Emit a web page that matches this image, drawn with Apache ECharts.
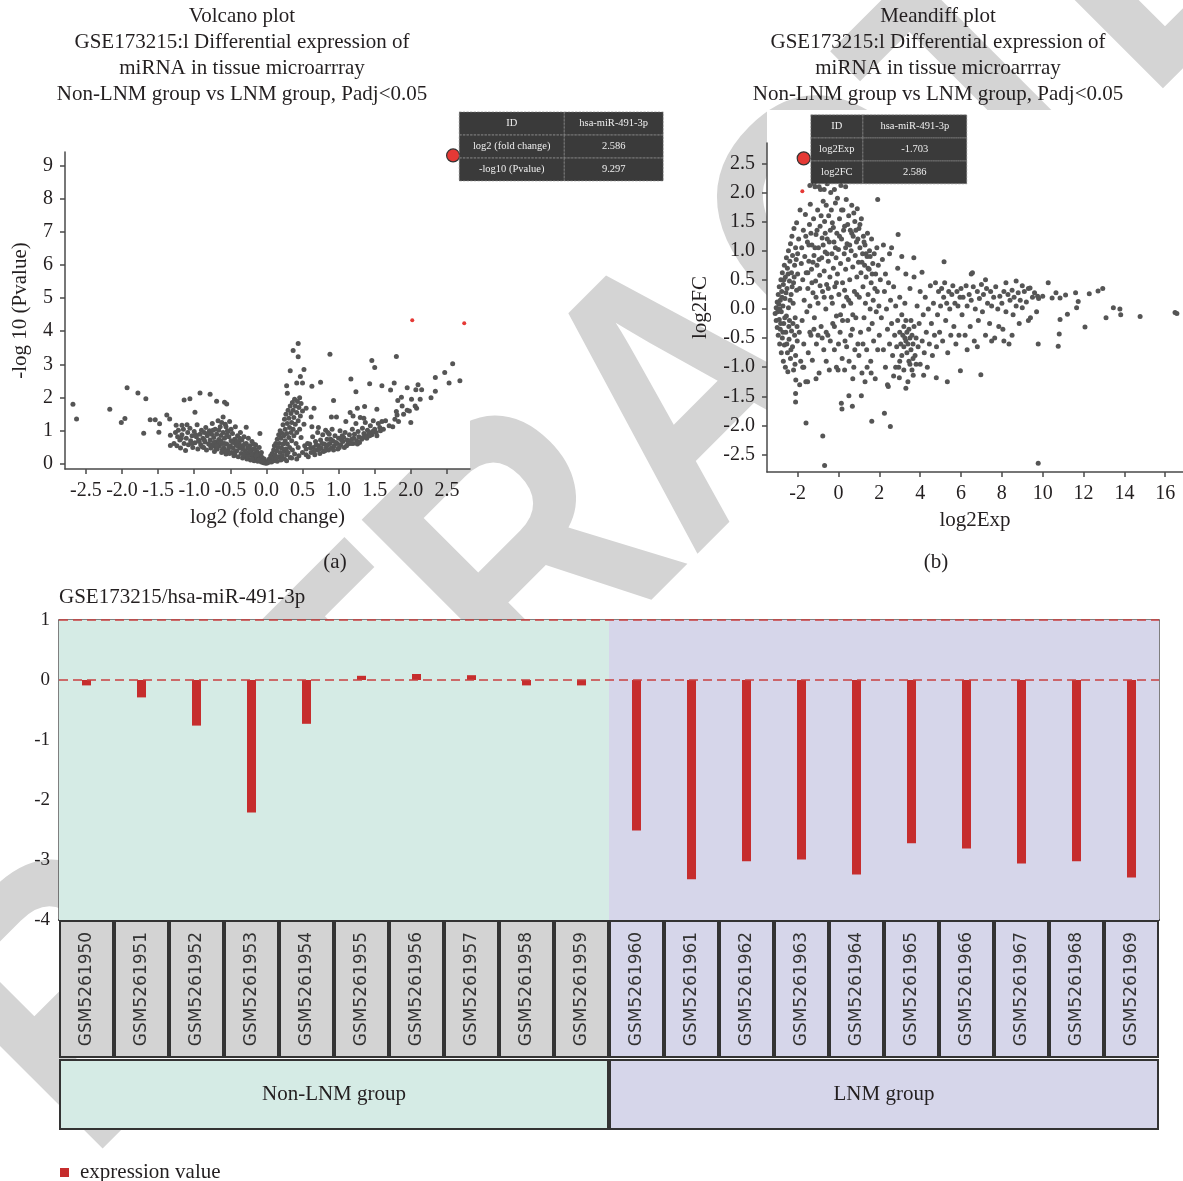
<!DOCTYPE html>
<html>
<head>
<meta charset="utf-8">
<title>GSE173215 hsa-miR-491-3p</title>
<script src="https://cdn.jsdelivr.net/npm/echarts@6/dist/echarts.min.js"></script>
<style>
  html, body { margin: 0; padding: 0; background: #ffffff; }
  #main { width: 1183px; height: 1181px; }
</style>
</head>
<body>
<div id="main"></div>
<script>
// ---- data ----
const hitId = 'hsa-miR-491-3p';

// volcano plot: [log2 (fold change), -log10 (Pvalue)]
const volcanoPoints = [
  [-2.68,1.80],[-2.63,1.36],[-2.17,1.65],[-2.01,1.25],[-1.96,1.37],[-1.93,2.30],[-1.78,2.14],[-1.67,1.97],
  [-1.70,0.93],[-1.61,1.33],[-1.54,1.33],[-1.48,1.21],[-1.49,0.96],[-1.38,1.48],[-1.34,1.36],[-1.33,0.87],
  [-1.33,0.56],[-1.25,1.17],[-1.17,1.17],[-1.14,1.93],[-1.06,1.97],[-0.99,1.56],[-0.92,2.14],[-0.78,2.10],
  [-0.69,1.89],[-0.58,1.86],[-0.55,1.81],[-0.28,1.11],[-0.09,0.92],
  [-1.28,0.62],[-1.26,0.95],[-1.24,0.55],[-1.22,1.02],[-1.20,0.72],[-1.19,0.48],[-1.17,0.88],[-1.15,1.05],
  [-1.14,0.62],[-1.12,0.41],[-1.11,0.78],[-1.09,0.95],[-1.08,0.58],[-1.06,1.08],[-1.05,0.70],[-1.03,0.85],
  [-1.02,0.50],[-1.00,0.98],[-0.99,0.64],[-0.97,0.82],[-0.96,1.18],[-0.95,0.45],[-0.94,0.72],[-0.92,0.90],
  [-0.91,0.58],[-0.90,1.02],[-0.88,0.78],[-0.87,0.50],[-0.86,0.95],[-0.85,0.66],[-0.84,1.10],[-0.83,0.42],
  [-0.82,0.85],[-0.80,0.60],[-0.79,1.00],[-0.78,0.72],[-0.77,0.48],[-0.76,0.90],[-0.75,1.22],[-0.74,0.55],
  [-0.73,0.80],[-0.72,0.38],[-0.71,1.05],[-0.70,0.66],[-0.69,0.90],[-0.68,0.45],[-0.67,1.30],[-0.66,0.74],
  [-0.65,0.55],[-0.64,1.12],[-0.63,0.86],[-0.62,0.35],[-0.61,0.62],[-0.60,1.42],[-0.60,0.95],[-0.59,0.48],
  [-0.58,0.78],[-0.57,1.20],[-0.56,0.30],[-0.55,0.60],[-0.54,1.00],[-0.53,0.42],[-0.52,0.82],[-0.51,1.28],
  [-0.50,0.55],[-0.49,0.70],[-0.48,0.35],[-0.47,0.92],[-0.46,0.48],[-0.45,0.25],[-0.44,0.75],[-0.43,1.12],
  [-0.42,0.58],[-0.41,0.40],[-0.40,0.85],[-0.39,0.22],[-0.38,0.65],[-0.37,0.48],[-0.36,0.95],[-0.35,0.32],
  [-0.34,0.72],[-0.33,0.18],[-0.32,0.55],[-0.31,0.82],[-0.30,0.40],[-0.29,0.25],[-0.28,0.62],[-0.27,0.15],
  [-0.26,0.48],[-0.25,0.78],[-0.24,0.30],[-0.23,0.55],[-0.22,0.12],[-0.21,0.40],[-0.20,0.68],[-0.19,0.22],
  [-0.18,0.45],[-0.17,0.10],[-0.16,0.32],[-0.15,0.58],[-0.14,0.18],[-0.13,0.38],[-0.12,0.08],[-0.11,0.25],
  [-0.10,0.50],[-0.09,0.14],[-0.08,0.30],[-0.07,0.06],[-0.06,0.20],[-0.05,0.10],[-0.04,0.04],[-0.03,0.15],
  [-0.02,0.06],[-0.01,0.02],
  [-0.93,0.68],[-0.89,0.52],[-0.81,0.92],[-0.78,0.58],[-0.74,1.02],[-0.70,0.48],[-0.67,0.60],[-0.63,0.70],
  [-0.58,0.62],[-0.55,0.88],[-0.52,0.50],[-0.49,1.05],[-0.46,0.65],[-0.43,0.38],[-0.40,0.55],[-0.37,0.78],
  [-0.33,0.45],[-0.30,0.60],[-0.27,0.35],[-0.24,0.50],[-0.21,0.28],[-0.18,0.60],[-0.15,0.25],[-0.66,1.02],
  [-0.62,1.25],[-0.56,1.12],[-0.53,0.98],[-1.10,1.18],[-1.18,0.78],[-1.23,0.82],[-1.03,0.62],[-0.98,0.88],
  [-0.86,0.72],[-0.73,0.65],[-0.69,0.55],[-0.61,0.44],[-0.57,0.38],[-0.51,0.32],[-0.44,0.30],[-0.41,0.68],
  [-0.35,0.55],[-0.31,0.28],[-0.26,0.22],[-0.23,0.40],[-0.20,0.15],[-0.16,0.45],[-0.13,0.28],[-0.10,0.12],
  [-0.07,0.35],[-0.06,0.08],
  [0.01,0.03],[0.02,0.08],[0.03,0.05],[0.04,0.15],[0.05,0.10],[0.06,0.25],[0.07,0.06],[0.08,0.32],
  [0.09,0.18],[0.10,0.42],[0.10,0.10],[0.11,0.55],[0.12,0.28],[0.13,0.15],[0.13,0.62],[0.14,0.40],
  [0.15,0.75],[0.15,0.08],[0.16,0.50],[0.17,0.88],[0.17,0.22],[0.18,0.62],[0.19,0.35],[0.19,1.00],
  [0.20,0.12],[0.20,0.78],[0.21,0.48],[0.22,0.92],[0.22,0.25],[0.23,1.18],[0.23,0.60],[0.24,0.38],
  [0.24,0.85],[0.25,1.35],[0.25,0.15],[0.26,0.70],[0.26,1.05],[0.27,0.45],[0.27,1.50],[0.28,0.28],
  [0.28,0.92],[0.29,1.22],[0.29,0.60],[0.30,1.62],[0.30,0.35],[0.31,0.80],[0.31,1.38],[0.32,1.10],
  [0.32,0.50],[0.33,1.75],[0.33,0.20],[0.34,0.95],[0.34,1.52],[0.35,0.70],[0.35,1.25],[0.36,1.85],
  [0.36,0.42],[0.37,1.05],[0.37,1.62],[0.38,0.85],[0.38,1.40],[0.39,1.95],[0.39,0.30],[0.40,1.20],
  [0.40,1.75],[0.41,0.62],[0.42,1.55],[0.42,0.95],[0.43,1.88],[0.44,1.30],[0.44,0.50],[0.45,1.70],
  [0.46,1.05],[0.46,2.00],[0.47,1.45],[0.48,0.80],[0.48,1.82],[0.50,1.60],[0.50,0.35],[0.52,1.20],
  [0.53,0.55],[0.55,1.68],[0.35,0.18],[0.45,0.25],[0.55,0.28],[0.42,0.15],[0.28,0.10],
  [0.44,3.63],[0.37,3.42],[0.44,3.23],[0.52,2.85],[0.33,2.81],[0.47,2.64],[0.42,2.44],[0.50,2.44],
  [0.63,2.34],[0.75,2.46],[0.28,2.36],[0.29,2.13],[0.88,3.31],[0.93,1.91],[1.17,2.56],[1.24,2.18],
  [1.26,1.68],[1.36,1.73],[1.43,2.42],[1.46,3.12],[1.50,2.91],[1.53,1.65],[1.60,2.36],[1.72,2.23],
  [1.77,2.44],[1.80,3.24],[1.80,1.58],[1.81,1.48],[1.82,1.91],[1.87,2.01],[1.88,1.75],[1.95,2.30],
  [1.98,1.60],[2.00,1.25],[2.01,1.95],[2.07,2.24],[2.10,2.39],[2.06,1.75],[2.08,1.68],[2.13,1.95],
  [2.15,2.24],[2.28,2.00],[2.34,2.19],[2.34,2.61],[2.47,2.76],[2.53,2.44],[2.58,3.02],[2.68,2.51],
  [0.55,0.45],[0.58,0.22],[0.60,0.60],[0.62,0.35],[0.64,0.82],[0.65,0.50],[0.67,0.28],[0.68,0.68],
  [0.70,0.42],[0.71,0.95],[0.72,0.55],[0.74,0.32],[0.75,0.72],[0.76,0.48],[0.78,0.88],[0.79,0.38],
  [0.80,0.60],[0.82,1.02],[0.83,0.50],[0.84,0.75],[0.86,0.42],[0.87,0.90],[0.88,0.62],[0.90,0.48],
  [0.91,1.05],[0.92,0.70],[0.94,0.55],[0.95,0.85],[0.97,1.42],[0.98,0.62],[0.99,0.45],[1.00,0.78],
  [1.02,1.00],[1.03,0.58],[1.05,0.85],[1.06,0.68],[1.08,0.50],[1.09,0.95],[1.10,1.28],[1.12,0.72],
  [1.13,0.60],[1.15,0.88],[1.16,1.55],[1.18,0.75],[1.19,1.05],[1.20,0.62],[1.22,0.90],[1.24,1.22],
  [1.25,0.70],[1.27,0.98],[1.28,0.82],[1.30,1.40],[1.32,0.75],[1.33,1.08],[1.35,0.92],[1.37,1.25],
  [1.38,0.85],[1.40,1.02],[1.42,0.95],[1.44,1.15],[1.46,0.88],[1.48,1.30],[1.50,1.05],[1.52,0.95],
  [1.55,1.22],[1.57,1.10],[1.60,1.28],[1.62,1.05],[1.65,1.30],[1.70,1.15],[1.75,1.12],[1.78,1.35],
  [1.83,1.28],[1.90,1.50],[1.95,1.62],
  [0.57,0.62],[0.61,0.48],[0.66,0.38],[0.69,0.58],[0.73,0.45],[0.77,0.62],[0.81,0.40],[0.85,0.58],
  [0.89,0.75],[0.93,0.42],[0.96,0.65],[1.01,0.50],[1.04,0.72],[1.07,0.80],[1.11,0.55],[1.14,0.68],
  [1.17,0.62],[1.21,0.78],[1.26,0.60],[1.29,0.65],[1.34,0.80],[1.39,0.78],[1.43,0.85],[1.47,0.98],
  [1.53,0.85],[1.58,1.00],[0.63,1.12],[0.66,1.68],[0.62,1.42],[0.72,1.10],[0.85,0.95],[0.90,1.42],
  [1.35,1.38],[1.20,1.45]
];
const volcanoRed = [[2.02, 4.33], [2.74, 4.24]];
const volcanoHit = [2.586, 9.297];

// meandiff plot: [log2Exp, log2FC]
const meandiffPoints = [
  [-3.10,-0.08],[-3.05,0.02],[-3.05,-0.20],[-3.00,0.12],[-3.00,-0.32],[-2.98,-0.05],[-2.95,0.25],[-2.95,-0.45],
  [-2.92,0.08],[-2.90,-0.18],[-2.90,0.38],[-2.88,-0.60],[-2.85,0.15],[-2.85,-0.35],[-2.82,0.50],[-2.80,-0.05],
  [-2.80,-0.75],[-2.78,0.30],[-2.75,-0.50],[-2.75,0.62],[-2.72,0.05],[-2.70,-0.90],[-2.70,0.42],[-2.68,-0.25],
  [-2.65,0.75],[-2.65,-0.62],[-2.62,0.18],[-2.60,-1.00],[-2.60,0.55],[-2.58,-0.40],[-2.55,0.88],[-2.55,-0.12],
  [-2.52,0.35],[-2.50,-0.75],[-2.50,0.70],[-2.48,-1.08],[-2.45,0.02],[-2.45,1.00],[-2.42,-0.52],[-2.40,0.48],
  [-2.40,-0.20],[-2.38,0.82],[-2.35,-0.85],[-2.35,1.12],[-2.32,0.25],[-2.30,-0.38],[-2.30,0.62],[-2.28,1.25],
  [-2.25,-0.65],[-2.25,0.92],[-2.22,0.10],[-2.20,-1.05],[-2.20,0.45],[-2.18,1.38],[-2.15,-0.45],[-2.15,0.75],
  [-2.12,-0.15],[-2.10,1.05],[-2.10,-0.80],[-2.05,0.32],[-2.05,1.48],[-2.02,-0.55],[-2.00,0.60],[-2.00,0.95],
  [-2.88,0.00],[-2.83,-0.25],[-2.77,0.20],[-2.72,-0.40],[-2.67,0.50],[-2.63,-0.15],[-2.57,0.28],[-2.53,-0.60],
  [-2.47,0.60],[-2.43,-0.30],[-2.37,0.15],[-2.33,-0.70],[-2.27,0.38],[-2.23,-0.25],[-2.17,0.55],[-2.13,-0.95],
  [-2.07,0.85],[-2.03,-0.30],
  [-1.95,1.20],[-1.92,-0.40],[-1.90,0.35],[-1.88,1.70],[-1.85,-0.90],[-1.82,0.78],[-1.80,1.05],[-1.78,-0.20],
  [-1.75,0.50],[-1.72,1.35],[-1.70,-0.60],[-1.68,0.15],[-1.65,0.90],[-1.62,1.62],[-1.60,-1.25],[-1.58,0.62],
  [-1.55,-0.05],[-1.52,1.15],[-1.50,0.35],[-1.48,-0.75],[-1.45,0.82],[-1.42,1.45],[-1.40,0.05],[-1.38,1.80],
  [-1.35,-0.45],[-1.32,0.68],[-1.30,1.10],[-1.28,-0.88],[-1.25,0.28],[-1.22,1.55],[-1.20,0.92],[-1.18,-0.15],
  [-1.15,2.10],[-1.12,0.48],[-1.10,1.28],[-1.08,-0.60],[-1.05,0.75],[-1.02,1.70],[-1.00,0.10],[-0.98,1.05],
  [-0.95,-1.10],[-0.92,0.58],[-0.90,1.42],[-0.88,2.05],[-0.85,-0.30],[-0.82,0.88],[-0.80,1.22],[-0.78,0.30],
  [-0.75,1.85],[-0.72,-0.70],[-0.70,0.65],[-0.68,1.50],[-0.65,0.98],[-0.62,0.00],[-0.60,1.78],[-0.58,0.42],
  [-0.55,1.20],[-0.52,-0.45],[-0.50,0.82],[-0.48,1.60],[-0.45,-1.05],[-0.42,0.55],[-0.40,1.35],[-0.38,2.00],
  [-0.35,0.20],[-0.32,0.95],[-0.30,1.48],[-0.28,-0.25],[-0.25,0.70],[-0.22,1.15],[-0.20,-0.70],[-0.18,0.38],
  [-0.15,1.82],[-0.12,0.88],[-0.10,-0.12],[-0.08,1.30],[-0.05,0.60],[-0.02,-1.05],[0.00,1.02],[0.02,0.25],
  [0.05,1.55],[0.08,-0.40],[0.10,0.78],[0.12,2.12],[0.15,1.20],[0.18,-0.85],[0.20,0.45],[0.22,1.70],
  [0.25,0.05],[0.28,0.95],[0.30,1.42],[0.32,-0.55],[0.35,0.68],[0.38,1.88],[0.40,0.20],[0.42,1.12],
  [0.45,-0.20],[0.48,0.85],[0.50,1.60],[0.52,-0.90],[0.55,0.50],[0.58,1.35],[0.60,0.10],[0.62,1.00],
  [0.65,1.78],[0.68,-0.35],[0.70,0.72],[0.72,1.25],[0.75,-1.00],[0.78,0.30],[0.80,1.50],[0.82,0.92],
  [0.85,-0.15],[0.88,1.15],[0.90,0.55],[0.92,1.72],[0.95,-0.60],[0.98,0.80],[1.00,1.38],[1.02,0.20],
  [1.05,1.05],[1.08,-0.40],[1.10,0.62],[1.12,1.55],[1.15,-1.10],[1.18,0.95],[1.20,0.38],[1.22,1.25],
  [1.25,-0.15],[1.28,0.75],[1.30,1.10],[1.32,0.10],[1.35,0.55],[1.38,-0.70],[1.40,0.90],[1.42,1.30],
  [1.45,0.25],[1.48,-0.35],[1.50,0.68],[1.52,1.00],[1.55,0.00],[1.58,-0.90],[1.60,0.45],[1.62,1.20],
  [1.65,-0.25],[1.68,0.78],[1.70,0.15],[1.72,-0.55],[1.75,0.95],[1.78,0.35],[1.80,-1.20],[1.82,0.60],
  [1.85,-0.05],[1.88,1.05],[1.90,0.30],[1.92,-0.70],[1.95,0.75],[1.98,0.05],
  [-1.60,1.25],[-1.45,1.10],[-1.35,1.30],[-1.25,0.80],[-1.15,1.05],[-1.05,1.35],[-0.95,0.85],[-0.85,1.60],
  [-0.75,1.10],[-0.65,1.30],[-0.55,0.95],[-0.45,1.15],[-0.35,1.70],[-0.25,1.40],[-0.15,1.05],[-0.05,1.90],
  [0.05,1.25],[0.15,1.70],[0.25,1.35],[0.35,1.05],[0.45,1.45],[0.55,1.10],[0.65,1.30],[0.75,1.65],
  [0.85,1.35],[0.95,1.20],[1.05,1.45],[1.15,0.80],[1.25,1.15],[1.35,0.95],[1.45,0.70],[1.55,0.90],
  [1.65,0.60],[-1.50,0.62],[-1.30,0.45],[-1.10,0.20],[-0.90,0.40],[-0.70,0.20],[-0.50,0.35],[-0.30,0.10],
  [-0.10,0.45],[0.10,-0.10],[0.30,0.32],[0.50,0.15],[0.70,-0.10],[0.90,0.25],[-0.95,2.10],[-0.70,2.05],
  [-0.55,2.15],[-0.20,2.05],[0.35,2.10],[-1.40,2.12],[-1.20,2.15],[-0.50,2.20],[0.15,2.20],
  [-1.40,-0.40],[-1.20,-0.35],[-1.00,-0.45],[-0.80,-0.50],[-0.60,-0.40],[-0.40,-0.55],[-0.20,-0.30],[0.00,-0.60],
  [0.20,-0.20],[0.40,-0.65],[0.60,-0.45],[0.80,-0.70],[1.00,-0.80],[1.20,-0.60],[1.40,-1.00],[-1.70,-1.00],
  [-1.10,-1.20],[-0.60,-0.90],[-0.10,-1.00],[0.30,-1.05],[0.70,-1.20],[1.30,-1.25],[1.60,-1.10],[-1.90,-1.30],
  [-1.75,-1.00],
  [2.00,-0.45],[2.05,0.50],[2.10,-0.15],[2.15,0.85],[2.20,-0.70],[2.25,0.30],[2.30,-1.00],[2.30,0.60],
  [2.35,0.00],[2.40,-0.35],[2.45,0.45],[2.50,-0.60],[2.50,0.95],[2.55,0.15],[2.60,-0.25],[2.65,-0.80],
  [2.70,0.38],[2.75,-0.45],[2.80,0.05],[2.85,-0.65],[2.90,-0.20],[2.90,0.70],[2.95,-1.00],[3.00,-0.40],
  [3.00,0.20],[3.05,-0.60],[3.10,-0.10],[3.10,-0.80],[3.15,-0.45],[3.20,-0.30],[3.20,-0.65],[3.25,-0.50],
  [3.25,0.10],[3.30,-0.55],[3.30,-0.20],[3.35,-0.75],[3.35,-0.40],[3.40,-0.60],[3.40,-1.25],[3.45,-0.35],
  [3.45,-0.90],[3.50,-0.50],[3.50,0.35],[3.55,-0.70],[3.55,-0.20],[3.60,-0.45],[3.60,-1.05],[3.65,-0.60],
  [3.70,-0.30],[3.70,0.55],[3.75,-0.80],[3.80,-0.50],[3.85,0.05],[3.90,-0.65],[3.95,-0.25],[4.00,-0.95],
  [4.00,0.30],[4.10,-0.55],[4.15,-0.10],[4.20,-0.75],[4.25,0.20],[4.30,-0.40],[4.35,-1.00],[4.40,0.00],
  [4.45,-0.60],[4.50,0.40],[4.55,-0.25],[4.60,-0.80],[4.65,0.10],[4.70,-0.45],[4.75,0.45],[4.80,-0.65],
  [4.85,-0.10],[4.90,0.30],[4.95,-0.40],[5.00,0.05],[5.05,0.35],[5.10,-0.55],[5.15,0.20],[5.20,0.45],
  [5.25,-0.20],[5.30,0.10],[5.35,-0.75],[5.40,0.30],[5.45,0.00],[5.50,-0.45],[5.55,0.25],[5.60,0.40],
  [5.65,-0.30],[5.70,0.10],[5.75,-0.60],[5.80,0.30],[5.85,0.05],[5.90,-0.45],[5.95,0.20],
  [2.20,1.10],[2.60,1.05],[3.10,0.90],[3.30,0.60],[2.40,-1.30],[2.80,-1.00],[3.80,-0.95],[3.00,-0.90],
  [3.50,-0.95],[3.20,-1.05],[3.65,-0.85],[2.70,-1.15],
  [6.00,0.35],[6.05,-0.10],[6.10,0.20],[6.20,-0.45],[6.25,0.40],[6.30,0.05],[6.40,0.25],[6.45,-0.30],
  [6.50,0.15],[6.60,0.38],[6.65,-0.55],[6.70,0.00],[6.80,0.30],[6.85,-0.20],[6.90,0.18],[7.00,0.42],
  [7.05,-0.05],[7.10,0.25],[7.20,-0.45],[7.25,0.35],[7.30,0.10],[7.40,-0.25],[7.45,0.30],[7.50,0.05],
  [7.60,0.20],[7.65,-0.50],[7.70,0.38],[7.80,0.00],[7.85,-0.30],[7.90,0.22],[8.00,0.10],[8.05,-0.35],
  [8.10,0.30],[8.20,-0.05],[8.30,0.25],[8.35,-0.60],[8.40,0.15],[8.50,0.32],[8.55,-0.10],[8.60,0.20],
  [8.70,0.05],[8.80,0.28],[8.85,-0.25],[8.90,0.15],[9.00,0.02],[9.10,0.30],[9.20,0.12],[9.30,0.35],
  [9.40,-0.15],[9.50,0.20],[9.60,0.28],[9.70,-0.05],[9.80,0.18],[10.00,0.22],
  [6.50,0.60],[7.20,0.50],[8.20,0.45],[8.70,0.48],[9.00,0.40],[6.30,-0.70],[6.80,-0.65],[7.50,-0.55],
  [8.10,-0.55],[8.50,-0.45],[9.30,-0.20],
  [9.78,-2.65],[-0.68,-2.69],[-0.77,-2.18],[-1.59,-1.96],[1.63,-1.93],[2.54,-2.02],[2.25,-1.79],[0.14,-1.62],
  [0.17,-1.72],[0.68,-1.67],[0.51,-1.49],[1.12,-1.49],[-2.10,-1.60],[-2.10,-1.45],[-2.09,-1.22],[-1.51,-1.25],
  [2.44,-1.33],[3.30,-1.36],[5.33,-1.25],[4.79,-1.18],[4.17,-1.14],[5.97,-1.06],[6.97,-1.13],[2.98,-1.18],
  [3.66,-1.14],
  [9.78,-0.60],[10.76,-0.64],[10.81,-0.43],[10.85,-0.18],[11.21,-0.09],[12.07,-0.31],[13.10,-0.15],[13.46,0.02],
  [13.78,0.00],[13.82,-0.10],[14.77,-0.13],[16.48,-0.06],[16.57,-0.08],[11.66,0.02],[11.74,0.13],[11.61,0.28],
  [12.28,0.26],[12.71,0.31],[12.94,0.35],[10.27,0.45],[10.65,0.28],[10.85,0.19],[11.12,0.24],[10.46,0.19],
  [9.75,0.22],[9.38,0.36],
  [1.92,1.88],[2.92,1.28],[3.69,0.88],[5.17,0.81],[4.09,0.63],[6.56,0.62]
];
const meandiffRed = [[-1.77, 2.02]];
const meandiffHit = [-1.703, 2.586];

// tick labels
const volcanoXTicks = [-2.5, -2, -1.5, -1, -0.5, 0, 0.5, 1, 1.5, 2, 2.5];
const volcanoYTicks = [0, 1, 2, 3, 4, 5, 6, 7, 8, 9];
const meandiffXTicks = [-2, 0, 2, 4, 6, 8, 10, 12, 14, 16];
const meandiffYTicks = [-2.5, -2, -1.5, -1, -0.5, 0, 0.5, 1, 1.5, 2, 2.5];

// expression of hsa-miR-491-3p per sample
const samples = [
  'GSM5261950', 'GSM5261951', 'GSM5261952', 'GSM5261953', 'GSM5261954',
  'GSM5261955', 'GSM5261956', 'GSM5261957', 'GSM5261958', 'GSM5261959',
  'GSM5261960', 'GSM5261961', 'GSM5261962', 'GSM5261963', 'GSM5261964',
  'GSM5261965', 'GSM5261966', 'GSM5261967', 'GSM5261968', 'GSM5261969'
];
const sampleGroup = [0, 0, 0, 0, 0, 0, 0, 0, 0, 0, 1, 1, 1, 1, 1, 1, 1, 1, 1, 1];
const expression = [
  -0.09, -0.29, -0.76, -2.21, -0.73, 0.07, 0.10, 0.08, -0.09, -0.09,
  -2.51, -3.32, -3.02, -2.99, -3.24, -2.72, -2.81, -3.06, -3.02, -3.29
];
const groups = ['Non-LNM group', 'LNM group'];

// ---- styles ----
const SERIF = '"Liberation Serif", "Times New Roman", serif';
const SANS = '"DejaVu Sans", Verdana, sans-serif';
const INK = '#231f20';
const AXIS = '#4a4a4a';
const DOT = '#555555';
const HIT_RED = '#e53935';
const MINT = '#d5ebe5';
const LAVENDER = '#d6d6ea';
const CELL_GRAY = '#d3d3d3';
const BAR_RED = '#c62d2d';

const tickText = { fontFamily: SERIF, fontSize: 20, color: INK };
const nameText = { fontFamily: SERIF, fontSize: 21, color: INK };

const nLeft = sampleGroup.filter(g => g === 0).length;

function tipRich(w1, w2) {
  const cell = {
    height: 23, lineHeight: 23, align: 'center', color: '#eeeeee',
    fontFamily: SERIF, fontSize: 10.5,
    borderColor: '#8c8c8c', borderWidth: 0.6, borderType: 'dashed'
  };
  return { k: Object.assign({ width: w1 }, cell), v: Object.assign({ width: w2 }, cell) };
}

function scatterAxis(grid, min, max, ticks, fmt, name, gap) {
  return {
    gridIndex: grid, type: 'value', min: min, max: max,
    axisLine: { show: true, onZero: false, lineStyle: { color: AXIS, width: 1.5 } },
    axisTick: { show: true, length: 5, customValues: ticks, lineStyle: { color: AXIS, width: 1.5 } },
    axisLabel: Object.assign({ customValues: ticks, formatter: fmt, margin: 12 }, tickText),
    splitLine: { show: false },
    name: name, nameLocation: 'middle', nameGap: gap, nameTextStyle: nameText
  };
}

const oneDecimal = v => v.toFixed(1);
const plain = v => String(v);

const titleLines = [
  'GSE173215:l Differential expression of',
  'miRNA in tissue microarrray',
  'Non-LNM group vs LNM group, Padj<0.05'
];

const chart = echarts.init(document.getElementById('main'));

chart.setOption({
  animation: false,
  backgroundColor: '#ffffff',
  graphic: [
    // watermark, sits under the plot panels
    {
      type: 'text', x: 698, y: 405, rotation: Math.PI / 4, scaleX: 0.826, z: -100, silent: true,
      style: { text: 'RETRACTED', font: 'bold 380px "Liberation Sans"', fill: '#d4d4d4', align: 'center', verticalAlign: 'middle' }
    },
    // opaque panels of the two scatter images
    { type: 'rect', z: -50, silent: true, shape: { x: 65, y: 110, width: 405, height: 359 }, style: { fill: '#ffffff' } },
    { type: 'rect', z: -50, silent: true, shape: { x: 767, y: 110, width: 416, height: 430 }, style: { fill: '#ffffff' } },
    {
      type: 'text', x: 242, y: 3, silent: true,
      style: { text: ['Volcano plot'].concat(titleLines).join('\n'), font: '21px ' + SERIF, lineHeight: 26, fill: INK, align: 'center', verticalAlign: 'top' }
    },
    {
      type: 'text', x: 938, y: 3, silent: true,
      style: { text: ['Meandiff plot'].concat(titleLines).join('\n'), font: '21px ' + SERIF, lineHeight: 26, fill: INK, align: 'center', verticalAlign: 'top' }
    },
    { type: 'text', x: 335, y: 562, silent: true, style: { text: '(a)', font: '21px ' + SERIF, fill: INK, align: 'center', verticalAlign: 'middle' } },
    { type: 'text', x: 936, y: 562, silent: true, style: { text: '(b)', font: '21px ' + SERIF, fill: INK, align: 'center', verticalAlign: 'middle' } },
    { type: 'text', x: 59, y: 597, silent: true, style: { text: 'GSE173215/' + hitId, font: '21px ' + SERIF, fill: INK, align: 'left', verticalAlign: 'middle' } }
  ],
  legend: {
    data: ['expression value'],
    left: 55, top: 1157,
    icon: 'rect', itemWidth: 9, itemHeight: 9,
    textStyle: { fontFamily: SERIF, fontSize: 21, color: INK, padding: [0, 0, 0, 6] }
  },
  grid: [
    { left: 65, top: 152, width: 405, height: 317 },
    { left: 767, top: 143, width: 416, height: 329 },
    { left: 59, top: 620, width: 1100, height: 300 },
    { left: 59, top: 920, width: 1100, height: 138 },
    { left: 59, top: 1059, width: 1100, height: 71 }
  ],
  xAxis: [
    scatterAxis(0, -2.79, 2.82, volcanoXTicks, oneDecimal, 'log2 (fold change)', 38),
    scatterAxis(1, -3.5, 16.87, meandiffXTicks, plain, 'log2Exp', 38),
    {
      gridIndex: 2, type: 'category', data: samples,
      axisLine: { onZero: false, lineStyle: { color: '#333333', width: 2 } },
      axisTick: { alignWithLabel: true, inside: true, length: 4, lineStyle: { color: '#555555' } },
      axisLabel: { show: false }
    },
    // hidden index axis used for the group backgrounds
    { gridIndex: 2, type: 'value', min: 0, max: samples.length, show: false },
    // top border of the expression panel
    {
      gridIndex: 2, type: 'category', position: 'top', data: samples,
      axisLine: { onZero: false, lineStyle: { color: '#555555', width: 1.5 } },
      axisTick: { show: false }, axisLabel: { show: false }
    },
    { gridIndex: 3, type: 'category', data: samples, show: false },
    { gridIndex: 4, type: 'category', data: groups, show: false }
  ],
  yAxis: [
    scatterAxis(0, -0.15, 9.4, volcanoYTicks, plain, '-log 10 (Pvalue)', 34),
    scatterAxis(1, -2.8, 2.85, meandiffYTicks, oneDecimal, 'log2FC', 56),
    {
      gridIndex: 2, type: 'value', min: -4, max: 1, interval: 1,
      axisLine: { show: true, onZero: false, lineStyle: { color: '#555555', width: 1.5 } },
      axisTick: { show: false },
      axisLabel: { margin: 9, fontFamily: SERIF, fontSize: 19, color: INK },
      splitLine: { show: true, lineStyle: { color: '#666666', type: [1.5, 9], width: 1.2 } }
    },
    {
      gridIndex: 2, type: 'value', min: -4, max: 1, interval: 1, position: 'right',
      axisLine: { show: true, onZero: false, lineStyle: { color: '#555555', width: 1.5 } },
      axisTick: { show: false }, axisLabel: { show: false }, splitLine: { show: false }
    },
    { gridIndex: 3, type: 'value', min: 0, max: 1, show: false },
    { gridIndex: 4, type: 'value', min: 0, max: 1, show: false }
  ],
  series: [
    // (a) volcano
    {
      type: 'scatter', xAxisIndex: 0, yAxisIndex: 0, data: volcanoPoints,
      symbolSize: 5, itemStyle: { color: DOT, opacity: 1 }, silent: true
    },
    {
      type: 'scatter', xAxisIndex: 0, yAxisIndex: 0, data: volcanoRed,
      symbolSize: 4, itemStyle: { color: HIT_RED, opacity: 1 }, silent: true
    },
    {
      type: 'scatter', xAxisIndex: 0, yAxisIndex: 0, data: [volcanoHit], z: 5, silent: true,
      symbolSize: 13, itemStyle: { color: HIT_RED, opacity: 1, borderColor: '#333333', borderWidth: 1.2 },
      label: {
        show: true, position: 'right', distance: -1, offset: [0, -9], opacity: 1,
        backgroundColor: '#3a3a3a', padding: 0,
        formatter: p => [
          '{k|ID}{v|' + hitId + '}',
          '{k|log2 (fold change)}{v|' + p.value[0].toFixed(3) + '}',
          '{k|-log10 (Pvalue)}{v|' + p.value[1].toFixed(3) + '}'
        ].join('\n'),
        rich: tipRich(105, 99)
      }
    },
    // (b) meandiff
    {
      type: 'scatter', xAxisIndex: 1, yAxisIndex: 1, data: meandiffPoints,
      symbolSize: 5, itemStyle: { color: DOT, opacity: 1 }, silent: true
    },
    {
      type: 'scatter', xAxisIndex: 1, yAxisIndex: 1, data: meandiffRed,
      symbolSize: 4, itemStyle: { color: HIT_RED, opacity: 1 }, silent: true
    },
    {
      type: 'scatter', xAxisIndex: 1, yAxisIndex: 1, data: [meandiffHit], z: 5, silent: true,
      symbolSize: 13, itemStyle: { color: HIT_RED, opacity: 1, borderColor: '#333333', borderWidth: 1.2 },
      label: {
        show: true, position: 'right', distance: 0, offset: [0, -9], opacity: 1,
        backgroundColor: '#3a3a3a', padding: 0,
        formatter: p => [
          '{k|ID}{v|' + hitId + '}',
          '{k|log2Exp}{v|' + p.value[0].toFixed(3) + '}',
          '{k|log2FC}{v|' + p.value[1].toFixed(3) + '}'
        ].join('\n'),
        rich: tipRich(52, 104)
      }
    },
    // group backgrounds of the expression panel
    {
      type: 'scatter', xAxisIndex: 3, yAxisIndex: 2, data: [], z: -1, silent: true,
      markArea: {
        silent: true,
        data: [
          [{ xAxis: 0, yAxis: -4, itemStyle: { color: MINT } }, { xAxis: nLeft, yAxis: 1 }],
          [{ xAxis: nLeft, yAxis: -4, itemStyle: { color: LAVENDER } }, { xAxis: samples.length, yAxis: 1 }]
        ]
      }
    },
    // (c) expression bars
    {
      name: 'expression value', type: 'bar', xAxisIndex: 2, yAxisIndex: 2,
      data: expression, barWidth: 9, itemStyle: { color: BAR_RED }, silent: true,
      markLine: {
        silent: true, symbol: 'none', label: { show: false },
        lineStyle: { color: '#c94040', type: [9, 5], width: 1.5 },
        data: [{ yAxis: 0 }, { yAxis: 1 }]
      }
    },
    // sample name cells
    {
      type: 'bar', xAxisIndex: 5, yAxisIndex: 4, barWidth: '100%', silent: true,
      data: samples.map((s, i) => ({ value: 1, itemStyle: { color: sampleGroup[i] === 0 ? CELL_GRAY : LAVENDER } })),
      itemStyle: { borderColor: '#333333', borderWidth: 2 },
      label: { show: true, position: 'inside', rotate: 90, formatter: '{b}', fontFamily: SANS, fontSize: 17, color: '#333333' }
    },
    // group cells
    {
      type: 'bar', xAxisIndex: 6, yAxisIndex: 5, barWidth: '100%', silent: true,
      data: groups.map((g, i) => ({ value: 1, itemStyle: { color: i === 0 ? MINT : LAVENDER } })),
      itemStyle: { borderColor: '#333333', borderWidth: 2 },
      label: { show: true, position: 'inside', formatter: '{b}', fontFamily: SERIF, fontSize: 21, color: INK }
    }
  ]
});
</script>
</body>
</html>
